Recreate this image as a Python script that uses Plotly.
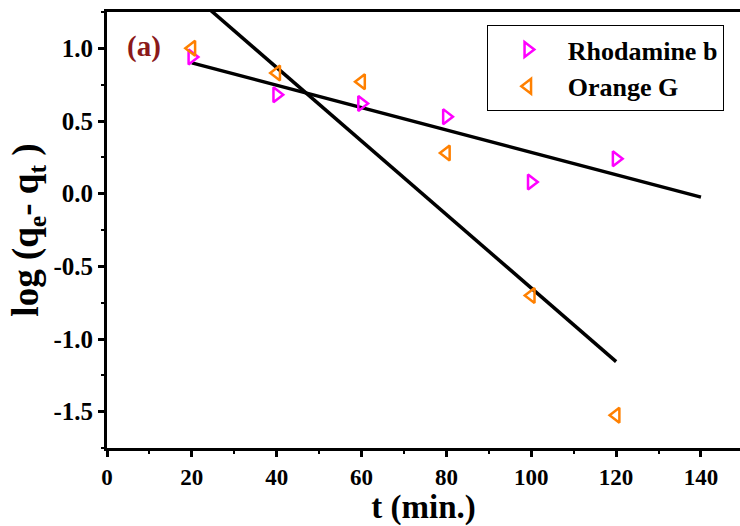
import numpy as np
import plotly.graph_objects as go

t_min = [20, 40, 60, 80, 100, 120]
rhodamine_b = [0.94, 0.68, 0.62, 0.53, 0.08, 0.24]
orange_g = [1.00, 0.83, 0.77, 0.28, -0.70, -1.525]
rb_fit_range = [20, 140]
og_fit_range = [20, 120]

x_ticks = [0, 20, 40, 60, 80, 100, 120, 140]
y_ticks = [-1.5, -1.0, -0.5, 0.0, 0.5, 1.0]

FONT = "Liberation Serif"

rb_coef = np.polyfit(t_min, rhodamine_b, 1)
og_coef = np.polyfit(t_min, orange_g, 1)
rb_fx = np.array(rb_fit_range, dtype=float)
og_fx = np.array(og_fit_range, dtype=float)

fig = go.Figure()
fig.add_trace(go.Scatter(x=rb_fx, y=np.polyval(rb_coef, rb_fx), mode="lines",
                         line=dict(color="black", width=3.5), showlegend=False))
fig.add_trace(go.Scatter(x=og_fx, y=np.polyval(og_coef, og_fx), mode="lines",
                         line=dict(color="black", width=3.5), showlegend=False))
fig.add_trace(go.Scatter(x=t_min, y=rhodamine_b, mode="markers", name="<b>Rhodamine b</b>",
                         marker=dict(symbol="triangle-right-open", size=13, color="#FF00FF",
                                     line=dict(width=2.5, color="#FF00FF"))))
fig.add_trace(go.Scatter(x=t_min, y=orange_g, mode="markers", name="<b>Orange G</b>",
                         marker=dict(symbol="triangle-left-open", size=13, color="#FF8000",
                                     line=dict(width=2.5, color="#FF8000"))))

fig.update_layout(
    width=740, height=526,
    margin=dict(l=107, r=0, t=12, b=78),
    plot_bgcolor="white", paper_bgcolor="white",
    font=dict(family=FONT, color="black"),
    legend=dict(x=0.6, y=0.97, xanchor="left", yanchor="top",
                bordercolor="black", borderwidth=1, bgcolor="white",
                font=dict(family=FONT, size=26, color="black"),
                itemwidth=70, tracegroupgap=0),
    annotations=[dict(x=0.028, y=0.92, xref="paper", yref="paper", text="<b>(a)</b>",
                      showarrow=False, xanchor="left", yanchor="middle",
                      font=dict(family=FONT, size=29, color="#8B1A1A"))],
)
fig.update_xaxes(
    range=[0, 149.2], tickvals=x_ticks, ticktext=[f"<b>{v}</b>" for v in x_ticks],
    showgrid=False, zeroline=False, showline=True, linecolor="black", linewidth=3,
    mirror=True, ticks="outside", ticklen=6, tickwidth=3, tickcolor="black",
    minor=dict(dtick=10, ticks="outside", ticklen=3, tickwidth=2, tickcolor="black"),
    tickfont=dict(family=FONT, size=23),
    title=dict(text="<b>t (min.)</b>", font=dict(family=FONT, size=33), standoff=10),
)
fig.update_yaxes(
    range=[-1.75, 1.25], tickvals=y_ticks, ticktext=[f"<b>{v:.1f}</b>" for v in y_ticks],
    showgrid=False, zeroline=False, showline=True, linecolor="black", linewidth=3,
    mirror=False, ticks="outside", ticklen=6, tickwidth=3, tickcolor="black",
    minor=dict(dtick=0.25, ticks="outside", ticklen=3, tickwidth=2, tickcolor="black"),
    tickfont=dict(family=FONT, size=25),
    title=dict(text="<b>log (q<sub>e</sub>- q<sub>t</sub> )</b>",
               font=dict(family=FONT, size=37), standoff=4),
)

fig.write_html("out.html")
